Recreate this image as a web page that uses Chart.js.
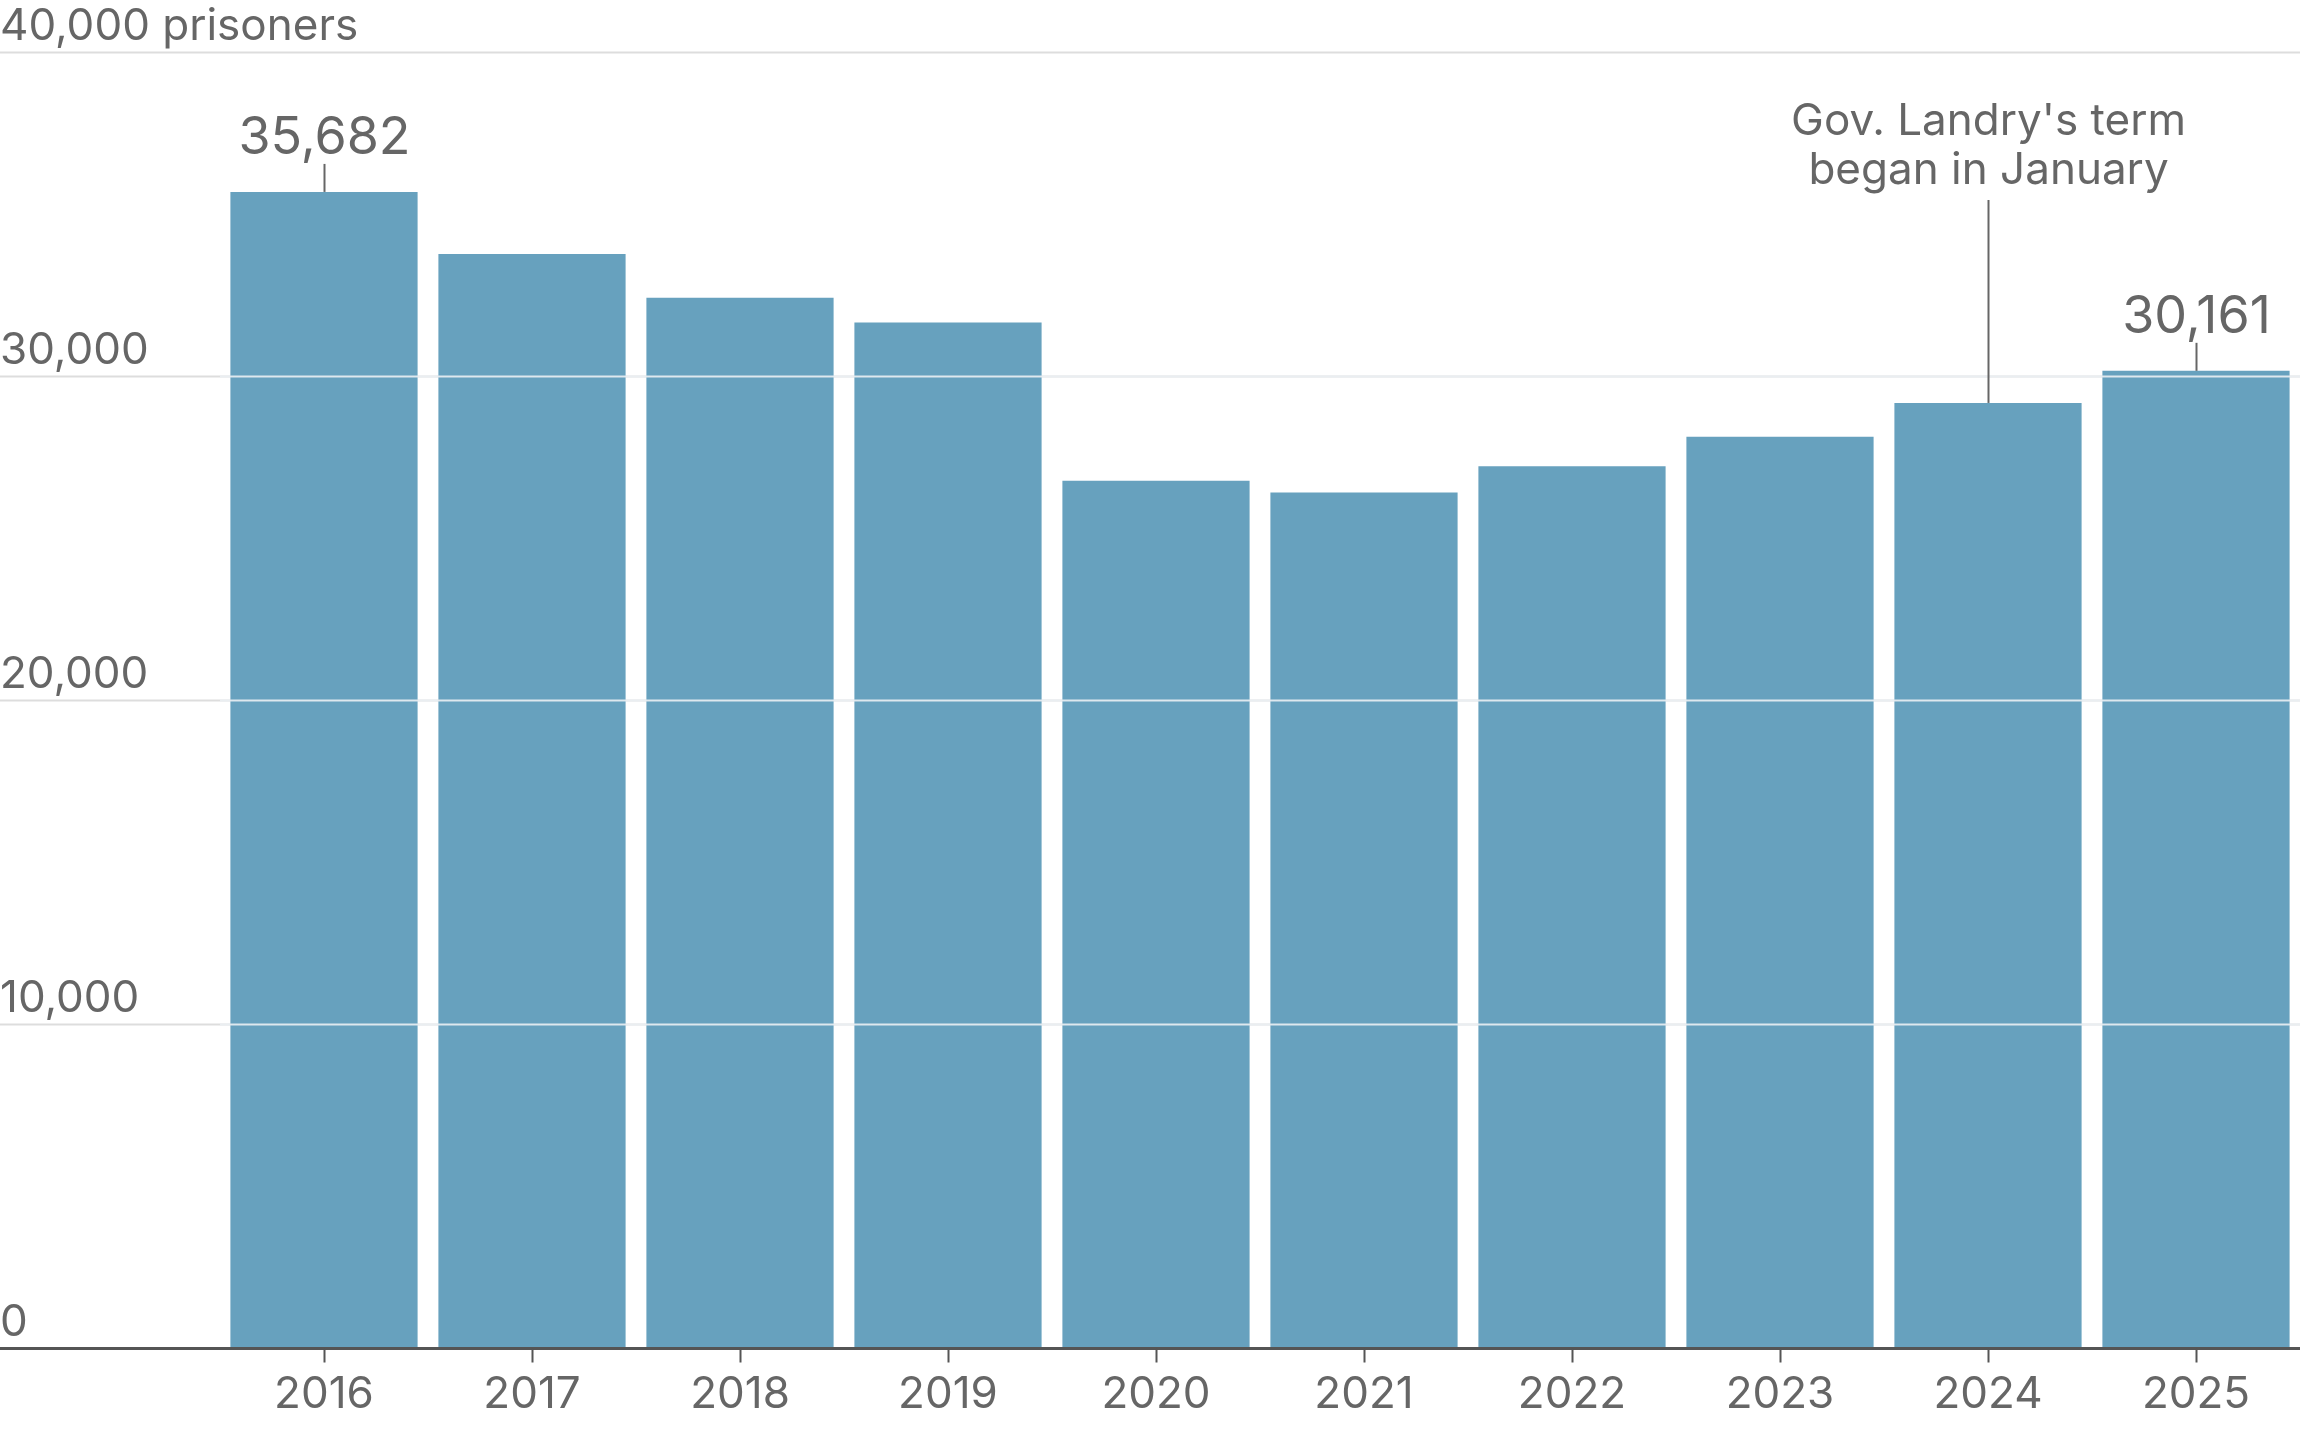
<!DOCTYPE html>
<html>
<head>
<meta charset="utf-8">
<script src="https://cdn.jsdelivr.net/npm/chart.js@4"></script>
<style>
  html, body { margin: 0; padding: 0; background: #fff; }
  #wrap { width: 2300px; height: 1439px; position: relative; }
</style>
</head>
<body>
<div id="wrap"><canvas id="chart"></canvas></div>
<script>
const years = ['2016', '2017', '2018', '2019', '2020', '2021', '2022', '2023', '2024', '2025'];
const prisoners = [35682, 33770, 32420, 31650, 26770, 26410, 27220, 28130, 29170, 30161];
const yTicks = [0, 10000, 20000, 30000, 40000];
const yTickLabels = ['0', '10,000', '20,000', '30,000', '40,000 prisoners'];

const FONT = 'Inter, "Noto Sans", sans-serif';
const GREY = '#666666';

// gridlines and y labels drawn across the full width, from the y scale
const gridPlugin = {
  id: 'grid',
  beforeDatasetsDraw(chart) {
    const { ctx, chartArea, scales } = chart;
    ctx.save();
    ctx.font = `44px ${FONT}`;
    ctx.fillStyle = GREY;
    ctx.textBaseline = 'bottom';
    yTicks.forEach((v, i) => {
      const y = Math.round(scales.y.getPixelForValue(v)) + 0.5;
      if (v !== 0) {
        ctx.strokeStyle = '#dddddd';
        ctx.lineWidth = 2;
        ctx.beginPath(); ctx.moveTo(0, y); ctx.lineTo(chartArea.right, y); ctx.stroke();
      }
      ctx.fillText(yTickLabels[i], 0, y - 4);
    });
    ctx.restore();
  },
  afterDatasetsDraw(chart) {
    const { ctx, chartArea, scales } = chart;
    ctx.save();
    yTicks.forEach((v) => {
      if (v === 0 || v === 40000) return;
      const y = Math.round(scales.y.getPixelForValue(v)) + 0.5;
      ctx.strokeStyle = 'rgba(235,240,243,0.9)';
      ctx.lineWidth = 2;
      ctx.beginPath(); ctx.moveTo(chartArea.left, y); ctx.lineTo(chartArea.right, y); ctx.stroke();
    });
    const y0 = Math.round(scales.y.getPixelForValue(0)) + 0.5;
    ctx.strokeStyle = '#555555';
    ctx.lineWidth = 3;
    ctx.beginPath(); ctx.moveTo(0, y0); ctx.lineTo(chartArea.right, y0); ctx.stroke();
    // x tick marks
    ctx.lineWidth = 2;
    years.forEach((_, i) => {
      const x = Math.round(scales.x.getPixelForValue(i)) + 0.5;
      ctx.beginPath(); ctx.moveTo(x, y0); ctx.lineTo(x, y0 + 14); ctx.stroke();
    });
    ctx.restore();
  },
};

const annotationPlugin = {
  id: 'notes',
  afterDatasetsDraw(chart) {
    const { ctx, scales } = chart;
    ctx.save();
    ctx.strokeStyle = GREY;
    ctx.fillStyle = GREY;
    ctx.lineWidth = 2;
    ctx.textAlign = 'center';
    ctx.textBaseline = 'alphabetic';
    [0, 9].forEach((i) => {
      const x = Math.round(scales.x.getPixelForValue(i)) + 0.5;
      const y = scales.y.getPixelForValue(prisoners[i]);
      ctx.beginPath(); ctx.moveTo(x, y); ctx.lineTo(x, y - 28); ctx.stroke();
      ctx.font = `52px ${FONT}`;
      ctx.fillText(prisoners[i].toLocaleString('en-US'), x, y - 38);
    });
    const i = 8;
    const x = Math.round(scales.x.getPixelForValue(i)) + 0.5;
    const y = scales.y.getPixelForValue(prisoners[i]);
    ctx.beginPath(); ctx.moveTo(x, y); ctx.lineTo(x, 200); ctx.stroke();
    ctx.font = `44px ${FONT}`;
    ctx.fillText("Gov. Landry's term", x, 135);
    ctx.fillText('began in January', x, 184);
    ctx.restore();
  },
};

new Chart(document.querySelector('#chart'), {
  type: 'bar',
  data: {
    labels: years,
    datasets: [{
      data: prisoners,
      backgroundColor: '#67a1be',
      categoryPercentage: 0.9,
      barPercentage: 1.0,
    }],
  },
  options: {
    responsive: true,
    maintainAspectRatio: false,
    animation: false,
    layout: { padding: { left: 220, right: 0, top: 52, bottom: 6 } },
    plugins: { legend: { display: false }, tooltip: { enabled: false } },
    scales: {
      y: { display: false, min: 0, max: 40000 },
      x: {
        grid: { display: false },
        border: { display: false },
        ticks: { color: GREY, font: { family: FONT, size: 44 }, padding: 12 },
      },
    },
  },
  plugins: [gridPlugin, annotationPlugin],
});
</script>
</body>
</html>
